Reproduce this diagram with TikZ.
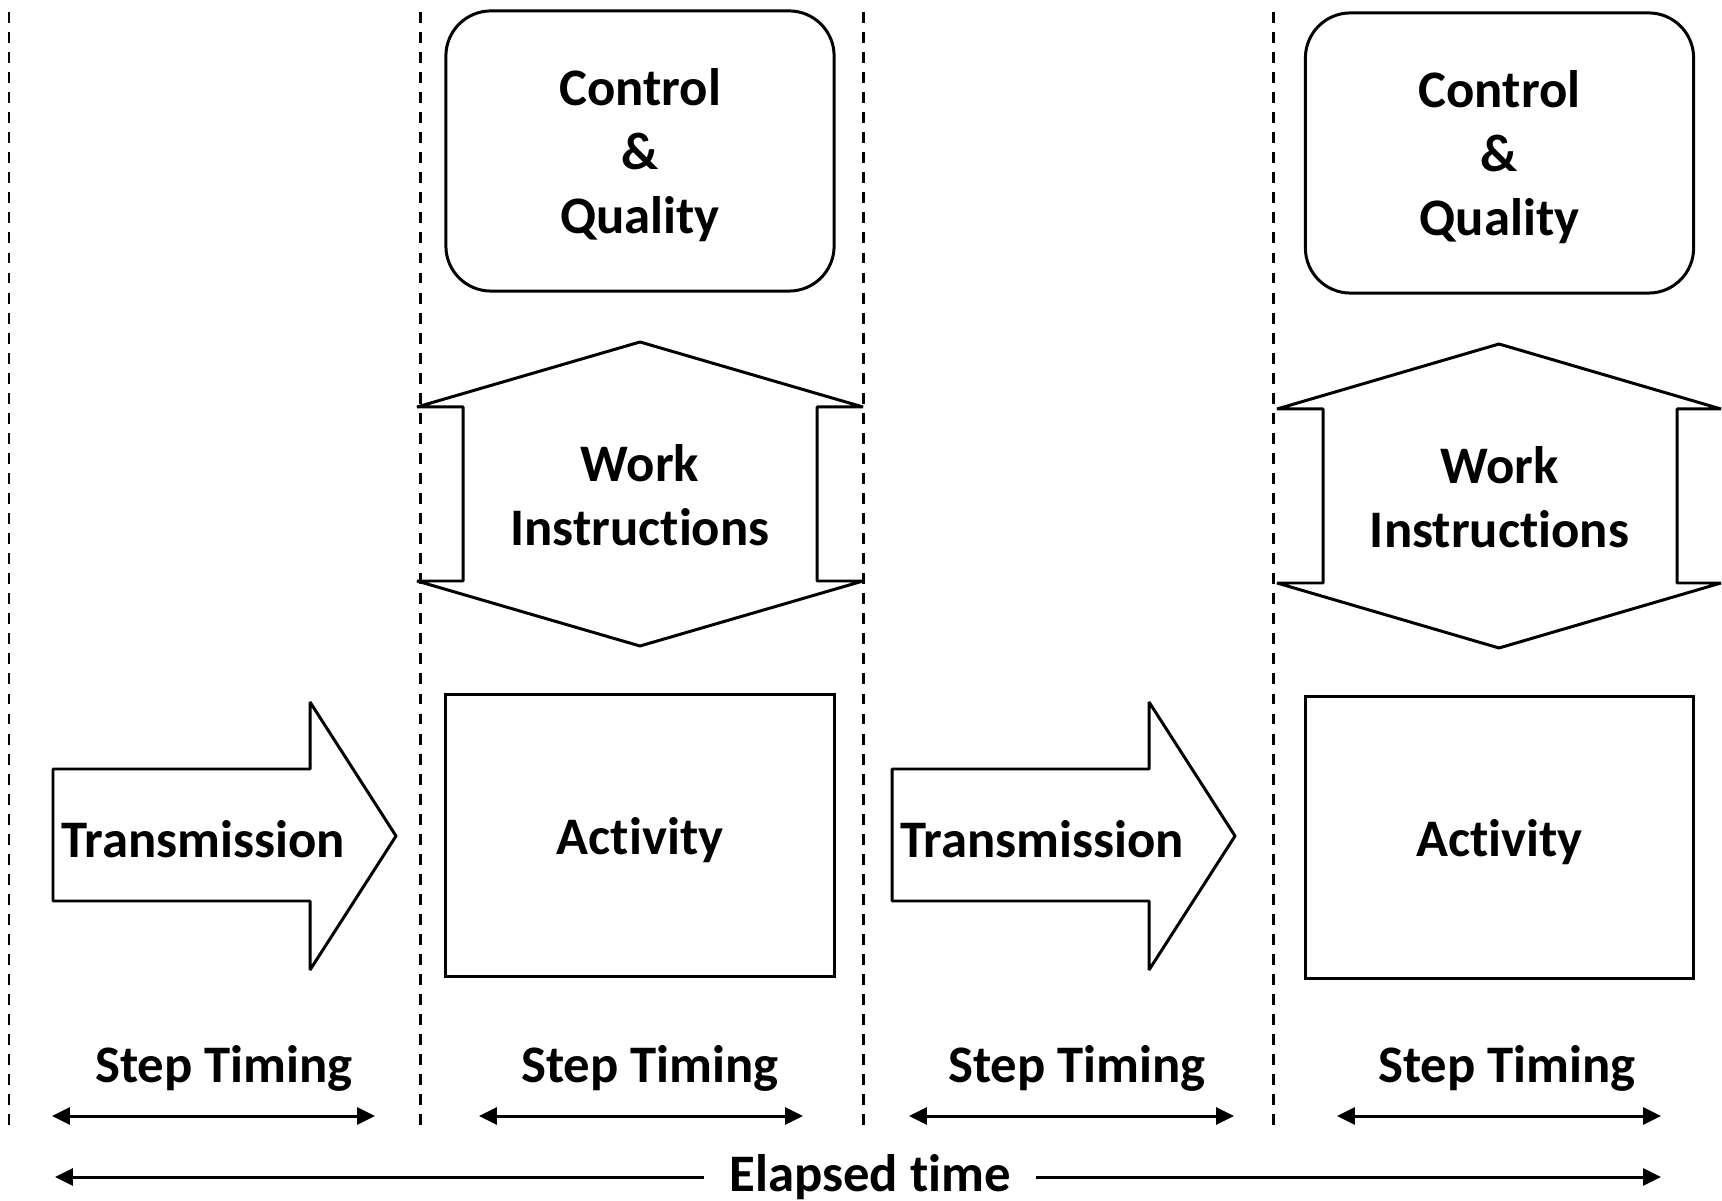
\documentclass[tikz,border=0pt]{standalone}
\usepackage{fontspec}
\setmainfont[RawFeature=-liga]{Carlito}
\usepackage{tikz}
\usetikzlibrary{arrows.meta, positioning}
\tikzstyle{every node}=[font=\bfseries\fontsize{15}{18.2}\selectfont, align=center]
\tikzstyle{ctrlbox}=[draw, rectangle, rounded corners=0.45cm, minimum width=3.88cm, minimum height=2.8cm, text depth=0pt]
\tikzstyle{actbox}=[draw, rectangle, minimum width=3.88cm, minimum height=2.81cm, text depth=0pt]
\tikzstyle{outline}=[draw, line join=bevel]
\tikzstyle{divider}=[dash pattern=on 3.1pt off 2.6pt]
\tikzstyle{span}=[<->]

\begin{document}
\begin{tikzpicture}[x=0.01cm, y=-0.01cm, line width=0.85pt, >={Triangle[length=5.1pt,width=4.8pt]}]
  \useasboundingbox (0,0) rectangle (1722,1201);
  % time slots
  \draw[divider] (9,12) -- (9,1126);
  \draw[divider] (420,12) -- (420,1126);
  \draw[divider] (863,12) -- (863,1126);
  \draw[divider] (1273,12) -- (1273,1126);
  % first step
  \draw[outline] (53,769) -- (310,769) -- (310,702) -- (396,836) -- (310,970) -- (310,901) -- (53,901) -- cycle;
  \node (trans1) at (203,839) {Transmission};
  \node[ctrlbox] (ctrl1) at (640,151) {Control\\\&\\Quality};
  \draw[outline] (640,342) -- (863,407) -- (817,407) -- (817,581) -- (863,581) -- (640,646)
    -- (417,581) -- (463,581) -- (463,407) -- (417,407) -- cycle;
  \node (work1) at (640,495) {Work\\Instructions};
  \node[actbox] (act1) at (640,835.5) {Activity};
  % second step
  \draw[outline] (892,769) -- (1149,769) -- (1149,702) -- (1235,836) -- (1149,970) -- (1149,901) -- (892,901) -- cycle;
  \node (trans2) at (1042,839) {Transmission};
  \node[ctrlbox] (ctrl2) at (1499.5,153) {Control\\\&\\Quality};
  \draw[outline] (1499,344) -- (1721,409) -- (1677,409) -- (1677,583) -- (1721,583) -- (1499,648)
    -- (1277,583) -- (1323,583) -- (1323,409) -- (1277,409) -- cycle;
  \node (work2) at (1499.5,497) {Work\\Instructions};
  \node[actbox] (act2) at (1499.5,837.5) {Activity};
  % timings
  \node (step1) at (224,1068) {Step Timing};
  \node (step2) at (650,1068) {Step Timing};
  \node (step3) at (1077,1068) {Step Timing};
  \node (step4) at (1507,1068) {Step Timing};
  \coordinate (s1l) at (52,1116);
  \coordinate (s1r) at (375,1116);
  \coordinate (s2l) at (479,1116);
  \coordinate (s2r) at (803,1116);
  \coordinate (s3l) at (909,1116);
  \coordinate (s3r) at (1234,1116);
  \coordinate (s4l) at (1337,1116);
  \coordinate (s4r) at (1661,1116);
  \draw[span] (s1l) -- (s1r);
  \draw[span] (s2l) -- (s2r);
  \draw[span] (s3l) -- (s3r);
  \draw[span] (s4l) -- (s4r);
  \node[inner xsep=0.24cm] (elapsed) at (870,1177) {Elapsed time};
  \coordinate (el) at (55,1177);
  \coordinate (er) at (1661,1177);
  \draw[->] (elapsed) -- (el);
  \draw[->] (elapsed) -- (er);
\end{tikzpicture}
\end{document}
